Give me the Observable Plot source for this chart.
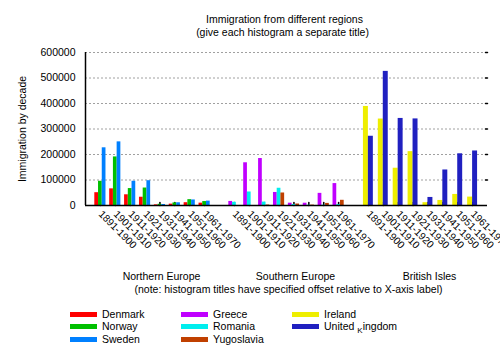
<!DOCTYPE html>
<html>
<head>
<meta charset="utf-8">
<script src="https://cdn.jsdelivr.net/npm/d3@7"></script>
<script src="https://cdn.jsdelivr.net/npm/@observablehq/plot@0.6"></script>
<style>
  html, body { margin: 0; padding: 0; background: #fff; }
  #wrap { position: relative; width: 500px; height: 350px; font-family: "Liberation Sans", Arial, sans-serif; }
  #wrap svg { position: absolute; left: 0; top: 0; }
  .leg { position: absolute; font-size: 10.5px; line-height: 12px; color: #000; white-space: nowrap; }
  .sw { position: absolute; width: 27px; height: 5px; }
  sub { font-size: 8px; vertical-align: -3px; line-height: 0; }
</style>
</head>
<body>
<div id="wrap"></div>
<script>
// ---- data ----
const decades = ["1891-1900","1901-1910","1911-1920","1921-1930","1931-1940","1941-1950","1951-1960","1961-1970"];
const regions = ["Northern Europe", "Southern Europe", "British Isles"];
const regionCountries = [["Denmark","Norway","Sweden"],["Greece","Romania","Yugoslavia"],["Ireland","United Kingdom"]];
const denmark    = [50231, 65285, 41983, 32430, 2559, 5393, 10984, 9201];
const norway     = [95015, 190505, 66395, 68531, 4740, 10100, 22935, 15484];
const sweden     = [226266, 249534, 95074, 97249, 3960, 10665, 21697, 17116];
const greece     = [15979, 167519, 184201, 51084, 9119, 8973, 47608, 85969];
const romania    = [12750, 53008, 13311, 67646, 3871, 1076, 1039, 3531];
const yugoslavia = [0, 0, 1888, 49064, 5835, 1576, 8225, 20381];
const ireland    = [388416, 339065, 146181, 211234, 10973, 19789, 43362, 32966];
const uk         = [271538, 525950, 341408, 339570, 31572, 139306, 202824, 213822];
const yTicks = [0, 100000, 200000, 300000, 400000, 500000, 600000];
const titleLines = ["Immigration from different regions", "(give each histogram a separate title)"];
const yLabel = "Immigration by decade";
const xLabel = "(note: histogram titles have specified offset relative to X-axis label)";

const series = {
  "Denmark": denmark, "Norway": norway, "Sweden": sweden,
  "Greece": greece, "Romania": romania, "Yugoslavia": yugoslavia,
  "Ireland": ireland, "United Kingdom": uk
};
const countries = Object.keys(series);
const colors = ["#ff0000", "#00c000", "#0080ff", "#c000ff", "#00eeee", "#c04000", "#eeee00", "#2020c0"];

// build table: group g starts at cluster slot g*9 (one empty slot between groups)
const rows = [];
const clusters = [];
regionCountries.forEach((list, g) => {
  const n = list.length, w = 1 / (n + 1);
  decades.forEach((dec, i) => {
    const cx = g * 9 + i;
    clusters.push({x: cx, label: dec});
    list.forEach((c, j) => {
      const center = cx + (j - (n - 1) / 2) * w;
      rows.push({country: c, x1: center - w / 2, x2: center + w / 2, value: series[c][i]});
    });
  });
});
const xDomain = [-1, 26];
const lineShape = {draw(context, l) { context.moveTo(0, 0); context.lineTo(0, -l); }};

const font = "Liberation Sans, Arial, sans-serif";
const common = {fontSize: 10.5, fill: "#000", textAnchor: "middle", lineAnchor: "middle"};
const chart = Plot.plot({
  width: 500,
  height: 350,
  marginLeft: 85,
  marginRight: 13,
  marginTop: 52,
  marginBottom: 145,
  style: {fontFamily: font, fontSize: "10.5px", color: "#000", background: "#fff"},
  x: {type: "linear", domain: xDomain, axis: null},
  y: {domain: [0, 600000], axis: null},
  color: {domain: countries, range: colors},
  marks: [
    Plot.gridY(yTicks.slice(1), {stroke: "#a0a0a0", strokeOpacity: 1, strokeDasharray: "2,2"}),
    Plot.axisY(yTicks, {tickSize: 0, tickPadding: 10, label: null, fontSize: 10.5, tickFormat: d => String(d)}),
    Plot.vector(yTicks.slice(1), {y: d => d, frameAnchor: "right", length: 2, rotate: -90, anchor: "start", shape: lineShape, stroke: "#000"}),
    Plot.vector(clusters, {x: "x", y: () => 0, length: 3, rotate: 0, anchor: "start", shape: lineShape, stroke: "#000"}),
    Plot.rectY(rows, {x1: "x1", x2: "x2", y: "value", fill: "country"}),
    Plot.ruleY([0], {stroke: "#000", strokeWidth: 1.5}),
    Plot.ruleX([xDomain[0]], {y1: 0, y2: 600000, stroke: "#000", strokeWidth: 1.5}),
    Plot.text(clusters, {x: "x", y: () => 0, text: "label", rotate: 45, textAnchor: "start", lineAnchor: "middle", dy: 7, fontSize: 10.2, fill: "#000"}),
    Plot.text(regions, {...common, x: (d, i) => i * 9 + 3.5, frameAnchor: "bottom", dy: 71, dx: 9, text: d => d}),
    Plot.text([xLabel], {...common, frameAnchor: "bottom", dy: 84, dx: 2, text: d => d}),
    Plot.text([titleLines[0]], {...common, frameAnchor: "top", dy: -33, dx: -2, text: d => d}),
    Plot.text([titleLines[1]], {...common, frameAnchor: "top", dy: -20, dx: -4, text: d => d}),
    Plot.text([yLabel], {...common, frameAnchor: "left", rotate: -90, dx: -63, text: d => d})
  ]
});

const wrap = document.getElementById("wrap");
wrap.appendChild(chart);

// legend: three columns
const colX = [70, 181, 292];
const rowY = [314, 326.5, 339];
countries.forEach((c, k) => {
  const col = k < 3 ? 0 : k < 6 ? 1 : 2;
  const row = k < 3 ? k : k < 6 ? k - 3 : k - 6;
  const sw = document.createElement("div");
  sw.className = "sw";
  sw.style.left = colX[col] + "px";
  sw.style.top = (rowY[row] - 2.5) + "px";
  sw.style.background = colors[k];
  wrap.appendChild(sw);
  const t = document.createElement("div");
  t.className = "leg";
  t.style.left = (colX[col] + 32) + "px";
  t.style.top = (rowY[row] - 6.5) + "px";
  if (c === "United Kingdom") {
    t.innerHTML = "United <sub>K</sub>ingdom";
  } else {
    t.textContent = c;
  }
  wrap.appendChild(t);
});
</script>
</body>
</html>
